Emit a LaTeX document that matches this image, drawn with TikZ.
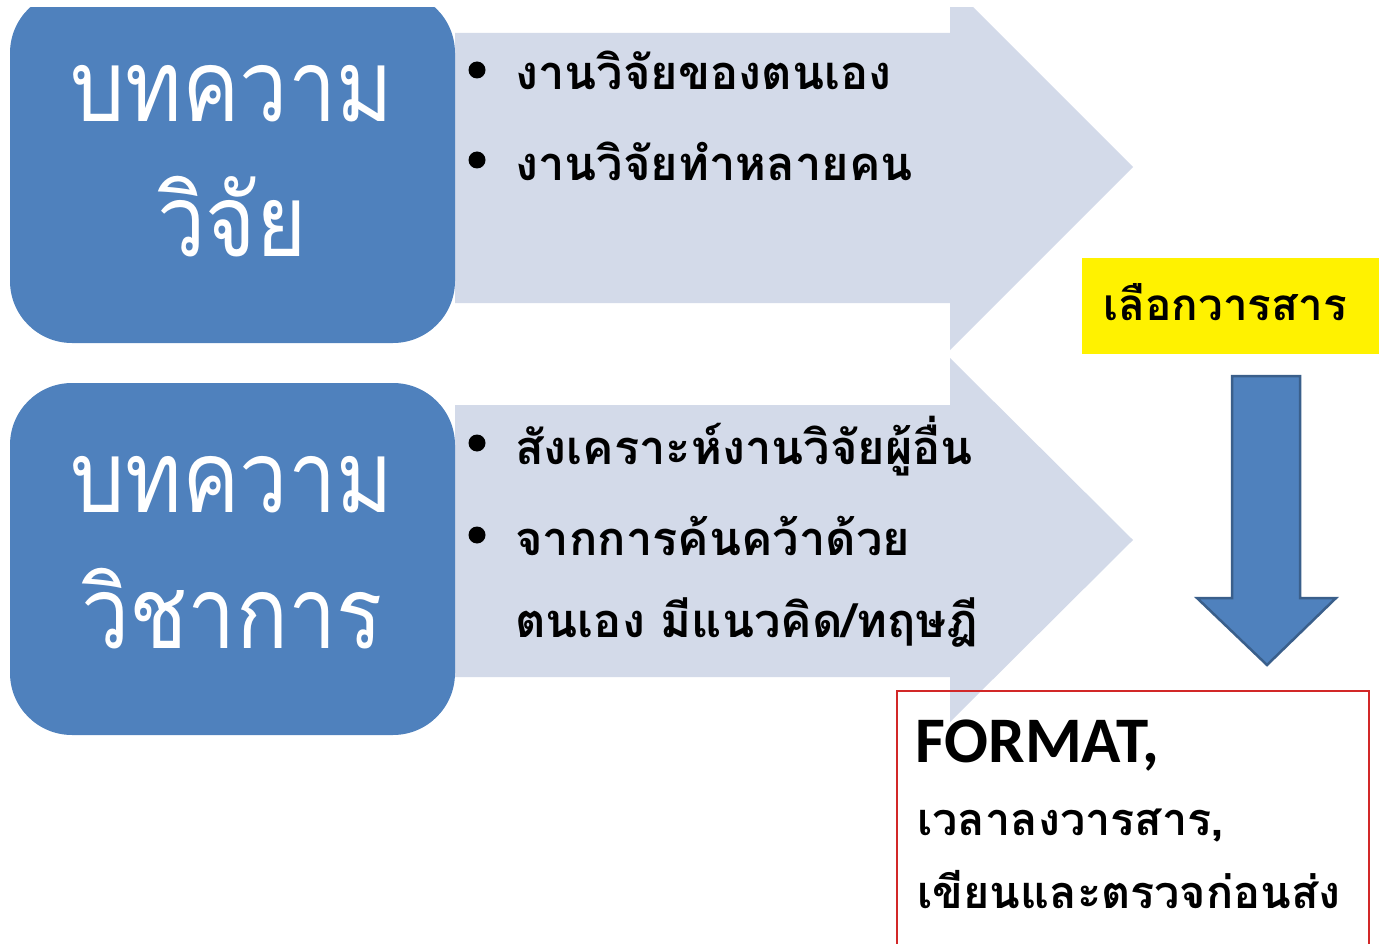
\documentclass[tikz,border=0pt]{standalone}
\usepackage{fontspec}
\newfontfamily\thaifont[Script=Thai]{Loma}
\newfontfamily\boxfont[Script=Thai, FakeStretch=0.86]{Loma}
\newfontfamily\latinbold{Carlito}[BoldFont={Carlito Bold}]
\definecolor{boxblue}{RGB}{79,129,189}
\definecolor{arrowlight}{RGB}{211,218,233}
\definecolor{arrowedge}{RGB}{58,95,139}
\definecolor{framered}{RGB}{210,40,40}
\tikzset{
  bigbox/.style={fill=boxblue, rounded corners=62pt, minimum width=445pt, minimum height=352pt, inner sep=0pt},
  boxtext/.style={text=white, anchor=base, inner sep=0pt, font=\boxfont\fontsize{100}{110}\selectfont},
  bultext/.style={text=black, anchor=base west, inner sep=0pt, font=\thaifont\bfseries\fontsize{47}{50}\selectfont},
  bulletdot/.style={circle, fill=black, minimum size=17pt, inner sep=0pt},
  redtext/.style={text=black, anchor=base west, inner sep=0pt, font=\thaifont\bfseries\fontsize{45}{48}\selectfont},
}
\begin{document}
\begin{tikzpicture}[x=1pt,y=-1pt]
\useasboundingbox (0,0) rectangle (1379,944);
\begin{scope}
\clip (0,8) rectangle (1379,944);
% light chevron arrows
\fill[arrowlight] (455,33) -- (950,33) -- (950,-16) -- (1133,167) -- (950,350) -- (950,303) -- (455,303) -- cycle;
\fill[arrowlight] (455,405) -- (950,405) -- (950,358) -- (1133,540) -- (950,722) -- (950,677) -- (455,677) -- cycle;
% blue rounded boxes
\node[bigbox] (b1) at (232.5,167) {};
\node[bigbox] (b2) at (232.5,559) {};
\end{scope}
% box texts
\node[boxtext] (t1a) at (232,122) {บทความ};
\node[boxtext] (t1b) at (232,256) {วิจัย};
\node[boxtext] (t2a) at (232,512) {บทความ};
\node[boxtext] (t2b) at (232,648) {วิชาการ};
% bullets top
\node[bulletdot] (d1) at (477,70) {};
\node[bultext] (l1) at (515,90) {งานวิจัยของตนเอง};
\node[bulletdot] (d2) at (477,160) {};
\node[bultext] (l2) at (515,181) {งานวิจัยทำหลายคน};
% bullets bottom
\node[bulletdot] (d3) at (477,443) {};
\node[bultext] (l3) at (515,464) {สังเคราะห์งานวิจัยผู้อื่น};
\node[bulletdot] (d4) at (477,535) {};
\node[bultext] (l4) at (515,555) {จากการค้นคว้าด้วย};
\node[bultext] (l5) at (515,637) {ตนเอง มีแนวคิด/ทฤษฎี};
% yellow label
\node[fill=yellow, minimum width=297pt, minimum height=96pt, inner sep=0pt] (sel) at (1230.5,306) {};
\node[text=black, anchor=base, inner sep=0pt, font=\thaifont\bfseries\fontsize{44}{48}\selectfont] (selt) at (1225,320) {เลือกวารสาร};
% down arrow
\draw[fill=boxblue, draw=arrowedge, line width=2.5pt, line join=miter]
  (1232,376) -- (1300,376) -- (1300,598) -- (1336,598) -- (1267,665) -- (1197,598) -- (1232,598) -- cycle;
% red frame
\draw[framered, line width=1.5pt] (897,950) -- (897,691) -- (1369,691) -- (1369,950);
\node[text=black, anchor=base west, inner sep=0pt, font=\latinbold\bfseries\fontsize{65}{70}\selectfont] (fmt) at (915,762) {FORMAT,};
\node[redtext] (r2) at (917,835) {เวลาลงวารสาร,};
\node[redtext] (r3) at (917,908) {เขียนและตรวจก่อนส่ง};
\end{tikzpicture}
\end{document}
